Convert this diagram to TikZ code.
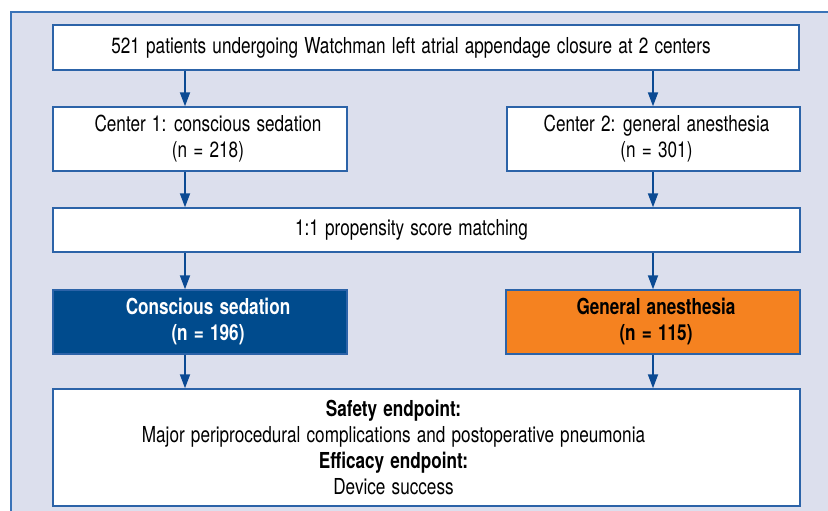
\documentclass[tikz,border=0pt]{standalone}
\usepackage{fontspec}
\setmainfont{TeX Gyre Heros}[FakeStretch=0.78, WordSpace=1.3]
\usetikzlibrary{arrows.meta}

\definecolor{panelbg}{HTML}{DCDFED}
\definecolor{panelrule}{HTML}{3A73B8}
\definecolor{boxrule}{HTML}{2C63A8}
\definecolor{flowblue}{HTML}{0B4A93}
\definecolor{sedblue}{HTML}{004B8D}
\definecolor{anorange}{HTML}{F58220}

\begin{document}
\begin{tikzpicture}[
    x=1pt, y=-1pt,
    box/.style={draw=boxrule, line width=1.4pt, fill=white, inner sep=0pt},
    txt/.style={align=center, font=\fontsize{22}{26}\selectfont},
    flow/.style={draw=flowblue, line width=1.8pt, -{Triangle[width=10pt,length=14pt]}}
]
\useasboundingbox (0,0) rectangle (828,511);
\fill[white] (0,0) rectangle (828,511);
\draw[panelrule, fill=panelbg, line width=1.8pt] (11,12) rectangle (840,520);

% arrow columns
\coordinate (L) at (185,0);
\coordinate (R) at (653,0);

% boxes
\node[box, minimum width=746pt, minimum height=45pt] (all) at (426,47.5) {};
\node[box, minimum width=294pt, minimum height=64pt] (c1) at (200,139) {};
\node[box, minimum width=293pt, minimum height=64pt] (c2) at (653.5,139) {};
\node[box, minimum width=747pt, minimum height=44pt] (psm) at (426.5,230) {};
\node[box, fill=sedblue, minimum width=294pt, minimum height=64pt] (cs) at (200,322) {};
\node[box, fill=anorange, minimum width=294pt, minimum height=64pt] (ga) at (653,322) {};
\node[box, minimum width=747pt, minimum height=117pt] (endp) at (426.5,447.5) {};

% texts
\node[txt] (allText) at ([xshift=-15pt]all.center) {521 patients undergoing Watchman left atrial appendage closure at 2 centers};
\node[txt] (c1Text) at ([xshift=8pt]c1.center) {Center 1: conscious sedation\\(n = 218)};
\node[txt] (c2Text) at ([xshift=3pt]c2.center) {Center 2: general anesthesia\\(n = 301)};
\node[txt] (psmText) at ([xshift=-15pt]psm.center) {1:1 propensity score matching};
\node[txt, text=white, font=\fontsize{22}{26}\selectfont\bfseries] (csText) at ([xshift=8pt]cs.center) {Conscious sedation\\(n = 196)};
\node[txt, font=\fontsize{22}{26}\selectfont\bfseries] (gaText) at ([xshift=3pt]ga.center) {General anesthesia\\(n = 115)};
\node[txt] (endText) at ([xshift=-33pt]endp.center) {\textbf{Safety endpoint:}\\Major periprocedural complications and postoperative pneumonia\\\textbf{Efficacy endpoint:}\\Device success};

% connectors
\draw[flow] (all.south -| L) -- (c1.north -| L);
\draw[flow] (all.south -| R) -- (c2.north -| R);
\draw[flow] (c1.south -| L) -- (psm.north -| L);
\draw[flow] (c2.south -| R) -- (psm.north -| R);
\draw[flow] (psm.south -| L) -- (cs.north -| L);
\draw[flow] (psm.south -| R) -- (ga.north -| R);
\draw[flow] (cs.south -| L) -- (endp.north -| L);
\draw[flow] (ga.south -| R) -- (endp.north -| R);
\end{tikzpicture}
\end{document}
